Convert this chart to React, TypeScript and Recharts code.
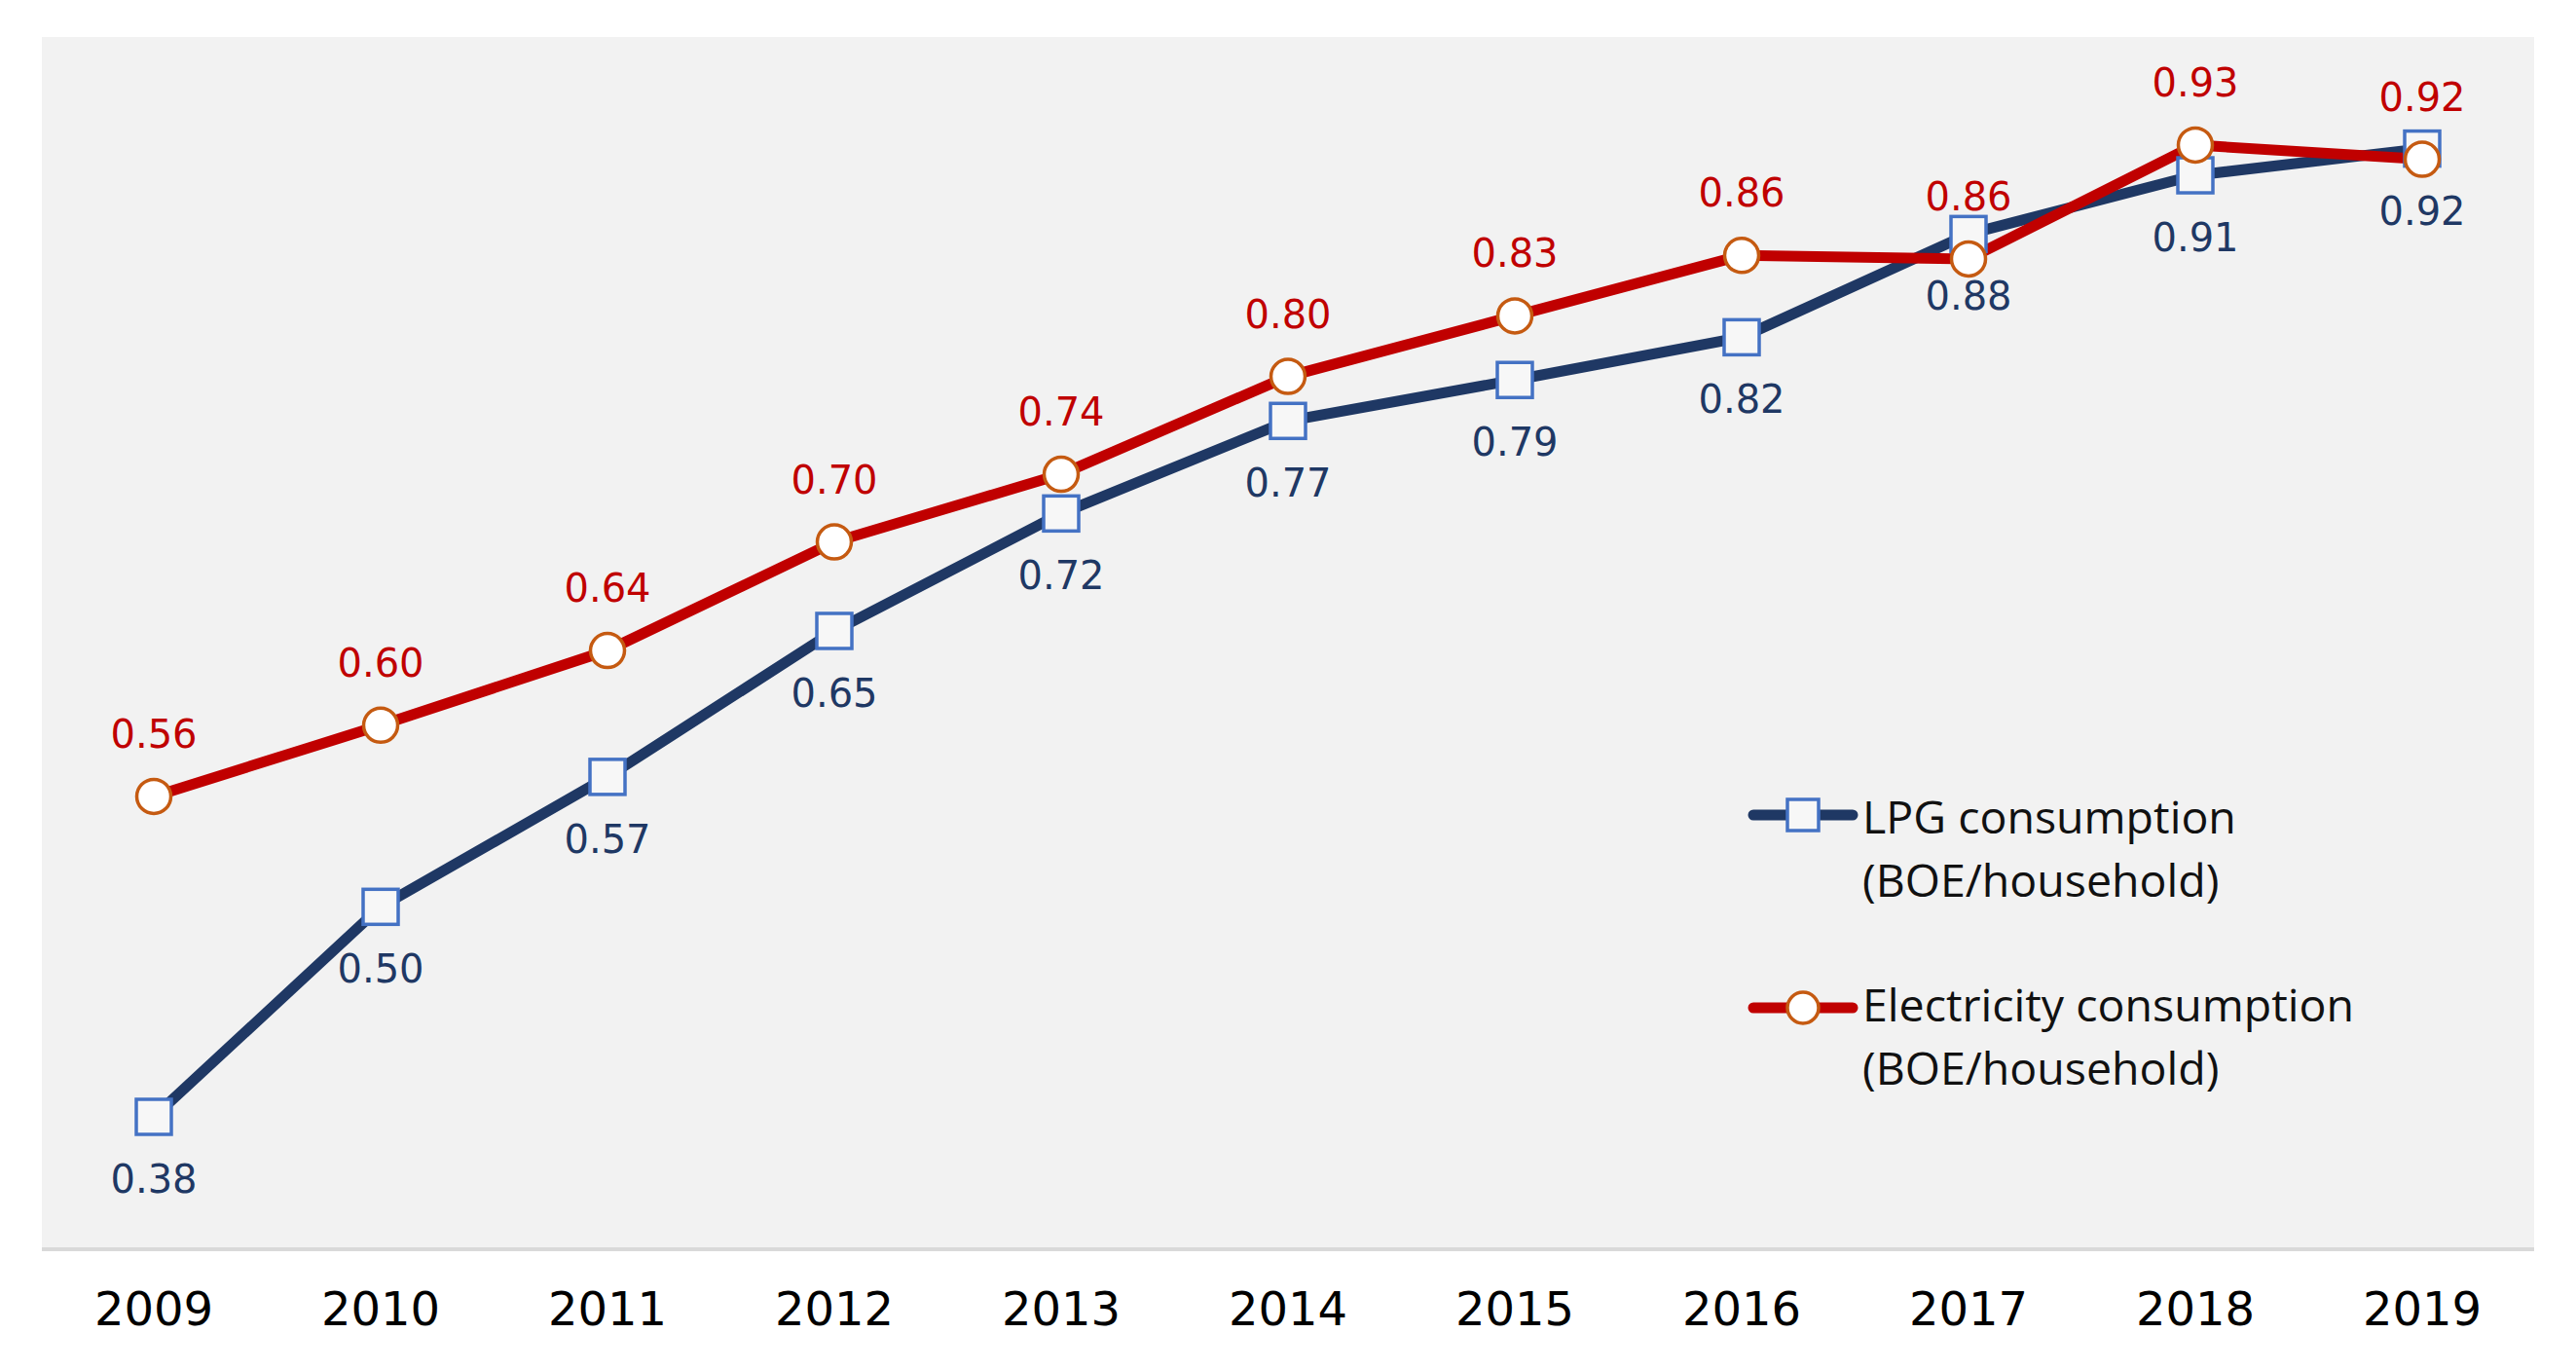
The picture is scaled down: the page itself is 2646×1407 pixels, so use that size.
import { LineChart, Line, XAxis, YAxis, CartesianGrid, Legend, LabelList } from 'recharts';

const YEARS = ['2009', '2010', '2011', '2012', '2013', '2014', '2015', '2016', '2017', '2018', '2019'];
const LPG = [0.38, 0.498, 0.571, 0.653, 0.719, 0.771, 0.794, 0.818, 0.876, 0.909, 0.924];
const ELECTRICITY = [0.56, 0.6, 0.642, 0.703, 0.741, 0.796, 0.83, 0.864, 0.862, 0.926, 0.918];
const LEGEND_LINES = [
  ['LPG consumption', '(BOE/household)'],
  ['Electricity consumption', '(BOE/household)'],
];

const NAVY = '#1f3864';
const BLUE = '#4472c4';
const RED = '#c00000';
const ORANGE = '#c55a11';
const NUM_FONT = '"DejaVu Sans", sans-serif';

const data = YEARS.map((year, i) => ({ year, lpg: LPG[i], elec: ELECTRICITY[i] }));

function SquareDot(props: any) {
  const { cx, cy, index } = props;
  return (
    <rect key={`sq-${index}`} x={cx - 18} y={cy - 18} width={36} height={36}
      fill="#f7f7f7" stroke={BLUE} strokeWidth={3.5} />
  );
}

function CircleDot(props: any) {
  const { cx, cy, index } = props;
  return <circle key={`ci-${index}`} cx={cx} cy={cy} r={17.5} fill="#fff" stroke={ORANGE} strokeWidth={3.5} />;
}

function makeLabel(color: string, dy: number) {
  return (props: any) => {
    const { x, y, value, index } = props;
    return (
      <text key={`lb-${color}-${index}`} x={x} y={y + dy} textAnchor="middle"
        fill={color} fontSize={40} fontFamily={NUM_FONT}>
        {Number(value).toFixed(2)}
      </text>
    );
  };
}

function YearTick(props: any) {
  const { x, y, payload } = props;
  return (
    <text x={x} y={y + 78} textAnchor="middle" fill="#000" fontSize={48} fontFamily={NUM_FONT}>
      {payload.value}
    </text>
  );
}

function LegendBox() {
  const font = '"Open Sans", sans-serif';
  return (
    <svg width={820} height={340}>
      <line x1={11} y1={47} x2={113} y2={47} stroke={NAVY} strokeWidth={11} strokeLinecap="round" />
      <rect x={46} y={31} width={32} height={32} fill="#f7f7f7" stroke={BLUE} strokeWidth={3.5} />
      <line x1={11} y1={245} x2={113} y2={245} stroke={RED} strokeWidth={11} strokeLinecap="round" />
      <circle cx={62} cy={245} r={16} fill="#fff" stroke={ORANGE} strokeWidth={3.5} />
      <text x={123} y={66} fontSize={46.5} fontFamily={font} fill="#111">{LEGEND_LINES[0][0]}</text>
      <text x={123} y={131} fontSize={46.5} fontFamily={font} fill="#111">{LEGEND_LINES[0][1]}</text>
      <text x={123} y={259} fontSize={46.5} fontFamily={font} fill="#111">{LEGEND_LINES[1][0]}</text>
      <text x={123} y={324} fontSize={46.5} fontFamily={font} fill="#111">{LEGEND_LINES[1][1]}</text>
    </svg>
  );
}

export default function App() {
  return (
    <div style={{ position: 'absolute', left: 0, top: 0, background: '#fff' }}>
      <LineChart width={2646} height={1407} data={data}
        margin={{ top: 38, right: 43, bottom: 0, left: 43 }}>
        <CartesianGrid fill="#f2f2f2" stroke="none" horizontal={false} vertical={false} />
        <XAxis dataKey="year" height={124} padding={{ left: 115, right: 115 }}
          axisLine={{ stroke: '#d9d9d9', strokeWidth: 4 }} tickLine={false}
          tickSize={0} tickMargin={0} tick={<YearTick />} interval={0} />
        <YAxis hide domain={[0.3056, 0.9867]} />
        <Legend layout="vertical" align="center" verticalAlign="middle"
          wrapperStyle={{ left: 1790, top: 790, width: 820, height: 340 }}
          content={() => <LegendBox />} />
        <Line dataKey="lpg" stroke={NAVY} strokeWidth={11} dot={SquareDot}
          activeDot={false} isAnimationActive={false}>
          <LabelList dataKey="lpg" content={makeLabel(NAVY, 78)} />
        </Line>
        <Line dataKey="elec" stroke={RED} strokeWidth={11} dot={CircleDot}
          activeDot={false} isAnimationActive={false}>
          <LabelList dataKey="elec" content={makeLabel(RED, -50)} />
        </Line>
      </LineChart>
    </div>
  );
}
